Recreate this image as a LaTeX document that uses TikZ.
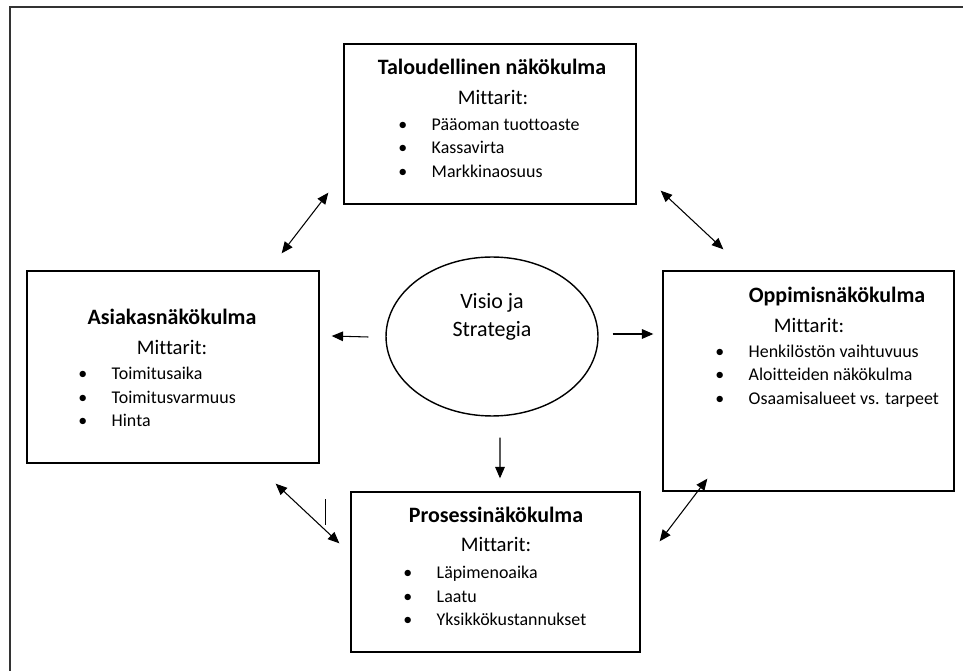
\documentclass[tikz,border=0pt]{standalone}
\usepackage{fontspec}
\setmainfont{Carlito}[Ligatures={NoCommon}]
\usetikzlibrary{positioning, arrows.meta, shapes.geometric, calc}

\begin{document}
\begin{tikzpicture}[
    x=0.02cm, y=-0.02cm,
    panel/.style={rectangle, draw=black, thick, inner sep=0pt},
    vision/.style={ellipse, draw=black, thick, inner sep=0pt,
                   minimum width=4.24cm, minimum height=3.18cm},
    head/.style={font=\fontsize{12.5}{14}\selectfont\bfseries, inner sep=0pt},
    mit/.style={font=\fontsize{11.8}{14}\selectfont, inner sep=0pt},
    items/.style={anchor=west, align=left, inner sep=0pt,
                  font=\fontsize{10.2}{13.4}\selectfont},
    arrow/.style={-{Triangle[length=6.5pt, width=5.5pt]}, semithick},
    both/.style={{Triangle[length=6.5pt, width=5.5pt]}-{Triangle[length=6.5pt, width=5.5pt]}, semithick}
  ]
    \useasboundingbox (0,0) rectangle (963,671);

    % Outer frame (top and left edges only)
    \draw[line width=1.3pt, black!80] (10,680) -- (10,7) -- (975,7);

    % Financial perspective (top)
    \node[panel, minimum width=5.84cm, minimum height=3.2cm] (fin) at (490,124) {};
    \node[head] (fin-head) at (492,67) {Taloudellinen näkökulma};
    \node[mit] (fin-mit) at (493,97) {Mittarit:};
    \node[items] (fin-list) at (398,148) {\makebox[19pt][l]{•}Pääoman tuottoaste\\
      \makebox[19pt][l]{•}Kassavirta\\ \makebox[19pt][l]{•}Markkinaosuus};

    % Customer perspective (left)
    \node[panel, minimum width=5.84cm, minimum height=3.84cm] (cust) at (173,367) {};
    \node[head] (cust-head) at (172,317) {Asiakasnäkökulma};
    \node[mit] (cust-mit) at (172,347) {Mittarit:};
    \node[items] (cust-list) at (78,397) {\makebox[19pt][l]{•}Toimitusaika\\
      \makebox[19pt][l]{•}Toimitusvarmuus\\ \makebox[19pt][l]{•}Hinta};

    % Learning perspective (right)
    \node[panel, minimum width=5.82cm, minimum height=4.4cm] (learn) at (808.5,381) {};
    \node[head] (learn-head) at (837,297) {Oppimisnäkökulma};
    \node[mit] (learn-mit) at (809,325) {Mittarit:};
    \node[items] (learn-list) at (715,376) {\makebox[19pt][l]{•}Henkilöstön vaihtuvuus\\
      \makebox[19pt][l]{•}Aloitteiden näkökulma\\ \makebox[19pt][l]{•}Osaamisalueet vs. tarpeet};

    % Process perspective (bottom)
    \node[panel, minimum width=5.78cm, minimum height=3.2cm] (proc) at (495.5,572) {};
    \node[head] (proc-head) at (496,515) {Prosessinäkökulma};
    \node[mit] (proc-mit) at (496,544) {Mittarit:};
    \node[items] (proc-list) at (403,596) {\makebox[19pt][l]{•}Läpimenoaika\\
      \makebox[19pt][l]{•}Laatu\\ \makebox[19pt][l]{•}Yksikkökustannukset};

    % Vision in the middle
    \node[vision] (vis) at (492,336.5) {};
    \node[font=\fontsize{12.5}{16}\selectfont, align=center] (vis-text) at (492,317) {Visio ja\\Strategia};

    % Arrows out of the vision
    \draw[arrow] ($(vis.west)+(-17,0.5)$) -- ($(cust.east)+(12,-31)$);
    \draw[arrow] ($(vis.east)+(14,-2.5)$) -- ($(learn.west)+(-9,-47)$);
    \draw[arrow] ($(vis.south)+(8,21)$) -- ($(proc.north)+(4.5,-13)$);

    % Arrows between perspectives
    \draw[both] ($(fin.south west)+(-15,-12)$) -- ($(cust.north east)+(-38,-17)$);
    \draw[both] ($(fin.south east)+(24,-14)$) -- ($(learn.north west)+(61,-21)$);
    \draw[both] ($(cust.south east)+(-44,20)$) -- ($(proc.north west)+(-11,52)$);
    \draw[both] ($(learn.south west)+(45,-13)$) -- ($(proc.north east)+(19,50)$);
    \draw[semithick] ($(proc.north west)+(-25,8)$) -- ($(proc.north west)+(-25,34)$);

  \end{tikzpicture}
\end{document}
